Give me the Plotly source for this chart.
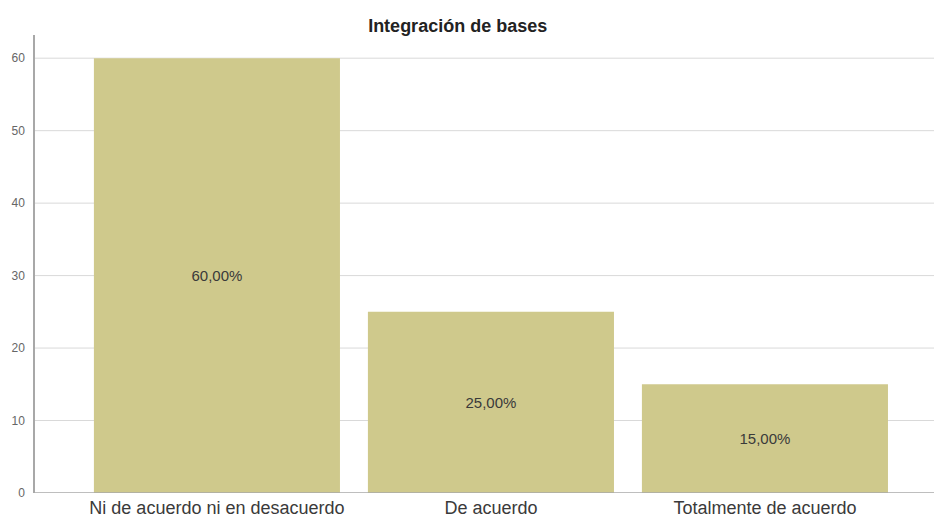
import plotly.graph_objects as go

categories = ["Ni de acuerdo ni en desacuerdo", "De acuerdo", "Totalmente de acuerdo"]
values = [60, 25, 15]
labels = ["60,00%", "25,00%", "15,00%"]
y_ticks = [0, 10, 20, 30, 40, 50, 60]

FONT = "Liberation Sans, Arial"

fig = go.Figure(go.Bar(
    x=categories, y=values, text=labels,
    textposition="inside", insidetextanchor="middle",
    textfont=dict(family=FONT, size=15, color="#3a3a3a"),
    marker=dict(color="#CFC98C", line=dict(width=0)),
    cliponaxis=False,
))

# horizontal gridlines across the full plot width
for v in y_ticks[1:]:
    fig.add_shape(type="line", xref="paper", yref="y", x0=0, x1=1, y0=v, y1=v,
                  line=dict(color="#d9d9d9", width=1), layer="below")
# baseline (x axis line)
fig.add_shape(type="line", xref="paper", yref="y", x0=0, x1=1, y0=y_ticks[0], y1=y_ticks[0],
              line=dict(color="#a8a8a8", width=1.5), layer="above")

fig.update_layout(
    width=934, height=523,
    margin=dict(l=35, r=0, t=35, b=30),
    paper_bgcolor="white", plot_bgcolor="white",
    bargap=0.102,
    showlegend=False,
    title=dict(text="<b>Integración de bases</b>", x=0.49, xanchor="center", y=0.95, yanchor="middle",
               font=dict(family=FONT, size=18, color="#222222")),
    xaxis=dict(range=[-0.664, 2.617], showline=False,
               showgrid=False, ticks="", ticklabelstandoff=2,
               tickfont=dict(family=FONT, size=18, color="#3a3a3a")),
    yaxis=dict(range=[0, 63.2], tickvals=y_ticks, showline=True, linecolor="#a8a8a8", linewidth=1.5,
               showgrid=False, zeroline=False, ticks="",
               ticklabelstandoff=6,
               tickfont=dict(family=FONT, size=12, color="#666666")),
)

fig.write_html("out.html")
